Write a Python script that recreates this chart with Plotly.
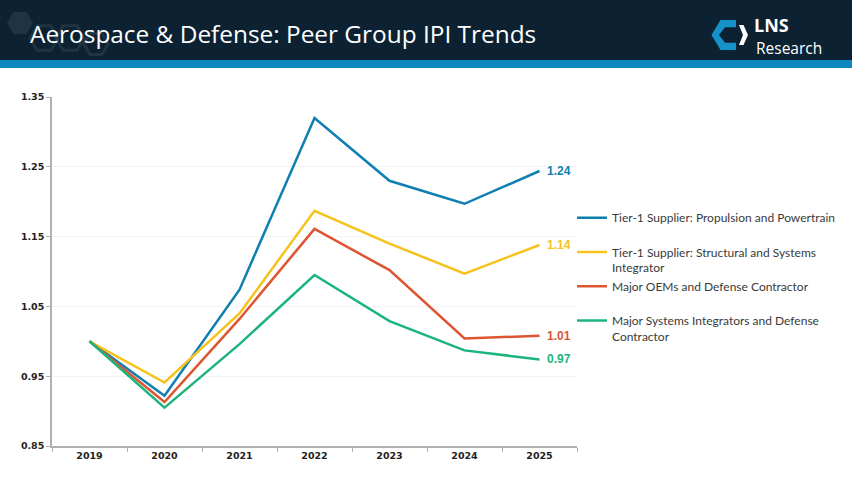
import plotly.graph_objects as go

W, H = 852, 479

years = ["2019", "2020", "2021", "2022", "2023", "2024", "2025"]
series_names = [
    "Tier-1 Supplier: Propulsion and Powertrain<br> ",
    "Tier-1 Supplier: Structural and Systems<br>Integrator",
    "Major OEMs and Defense Contractor<br> ",
    "Major Systems Integrators and Defense<br>Contractor",
]
propulsion = [1.00, 0.922, 1.074, 1.320, 1.230, 1.197, 1.244]
structural = [1.00, 0.941, 1.040, 1.187, 1.140, 1.097, 1.138]
oems = [1.00, 0.913, 1.032, 1.161, 1.102, 1.004, 1.008]
integrators = [1.00, 0.905, 0.996, 1.095, 1.029, 0.987, 0.974]
series_values = [propulsion, structural, oems, integrators]
colors = ["#0f7fb2", "#f6c21c", "#dd5532", "#1bb57b"]

title_text = "Aerospace &amp; Defense: Peer Group IPI Trends"


def px(x):
    return x / W


def py(y):
    return 1 - y / H


fig = go.Figure()
for name, vals, col in zip(series_names, series_values, colors):
    fig.add_trace(go.Scatter(
        x=years, y=vals, mode="lines", name=name,
        line=dict(color=col, width=2.5),
        hoverinfo="x+y",
    ))
    fig.add_annotation(
        x=len(years) - 1, y=vals[-1], xref="x", yref="y",
        text=f"<b>{vals[-1]:.2f}</b>", showarrow=False,
        xanchor="left", yanchor="middle", xshift=5,
        font=dict(family="Liberation Sans", size=12, color=col),
    )

shapes = []
# header band
shapes.append(dict(type="rect", xref="paper", yref="paper", x0=0, x1=1,
                   y0=py(60), y1=1, fillcolor="#0c2233", line=dict(width=0), layer="below"))
shapes.append(dict(type="rect", xref="paper", yref="paper", x0=0, x1=1,
                   y0=py(68), y1=py(60), fillcolor="#0b88bd", line=dict(width=0), layer="below"))


def hexpath(cx, cy, r):
    pts = [(cx - r, cy), (cx - r / 2, cy - r * 0.87), (cx + r / 2, cy - r * 0.87),
           (cx + r, cy), (cx + r / 2, cy + r * 0.87), (cx - r / 2, cy + r * 0.87)]
    return "M " + " L ".join(f"{px(a):.5f},{py(b):.5f}" for a, b in pts) + " Z"


shapes.append(dict(type="path", xref="paper", yref="paper", path=hexpath(20, 23, 13),
                   fillcolor="rgba(255,255,255,0.08)", line=dict(width=0), layer="below"))
for cx, cy, r in [(44, 38, 14), (70, 38, 14), (96, 44, 12)]:
    shapes.append(dict(type="path", xref="paper", yref="paper", path=hexpath(cx, cy, r),
                       fillcolor="rgba(0,0,0,0)",
                       line=dict(color="rgba(255,255,255,0.08)", width=3), layer="below"))


def poly(points):
    return "M " + " L ".join(f"{px(a):.5f},{py(b):.5f}" for a, b in points) + " Z"


# logo icon
shapes.append(dict(type="path", xref="paper", yref="paper",
                   path=poly([(720.5, 20), (736, 20), (736, 27.3), (725, 27.3), (719, 35),
                              (725, 42.7), (736, 42.7), (736, 50), (720.5, 50), (711.5, 35)]),
                   fillcolor="#1592c8", line=dict(width=0)))
shapes.append(dict(type="path", xref="paper", yref="paper",
                   path=poly([(739, 25), (743.5, 25), (748, 35), (743.5, 45), (739, 45), (743, 35)]),
                   fillcolor="#ffffff", line=dict(width=0)))

annotations = [
    dict(xref="paper", yref="paper", x=px(28), y=py(33), text=title_text, showarrow=False,
         xanchor="left", yanchor="middle",
         font=dict(family="Open Sans", size=24.4, color="#ffffff")),
    dict(xref="paper", yref="paper", x=px(752), y=py(25), text="<b>LNS</b>", showarrow=False,
         xanchor="left", yanchor="middle",
         font=dict(family="Open Sans", size=18, color="#ffffff")),
    dict(xref="paper", yref="paper", x=px(754), y=py(48.5), text="Research", showarrow=False,
         xanchor="left", yanchor="middle",
         font=dict(family="Open Sans", size=15.5, color="#ffffff")),
]
for a in annotations:
    fig.add_annotation(**a)

fig.update_layout(
    width=W, height=H,
    margin=dict(l=0, r=0, t=0, b=0, autoexpand=False),
    paper_bgcolor="#ffffff", plot_bgcolor="#ffffff",
    shapes=shapes,
    showlegend=True,
    legend=dict(x=px(572), y=py(203.5), xanchor="left", yanchor="top",
                font=dict(family="Lato", size=12, color="#3a3a3a"),
                bgcolor="rgba(0,0,0,0)", valign="top", tracegroupgap=0),
    xaxis=dict(domain=[px(52), px(577)], type="category", range=[-0.5, 6.5],
               showgrid=False, showline=True, linecolor="#b0b0b0", linewidth=1.5,
               ticks="outside", tickson="boundaries", ticklen=4, tickcolor="#b0b0b0",
               tickfont=dict(family="DejaVu Sans", size=9.5, color="#222222", weight="bold"),
               automargin=False, fixedrange=True),
    yaxis=dict(domain=[py(446), py(97)], range=[0.85, 1.35], tick0=0.85, dtick=0.1,
               tickformat=".2f", showgrid=True, gridcolor="#f3f3f3", gridwidth=1,
               zeroline=False, showline=True, linecolor="#b0b0b0", linewidth=1.5,
               ticks="outside", ticklen=4, tickcolor="#b0b0b0",
               tickfont=dict(family="DejaVu Sans", size=9.5, color="#222222", weight="bold"),
               automargin=False, fixedrange=True),
)

fig.write_html("out.html")
